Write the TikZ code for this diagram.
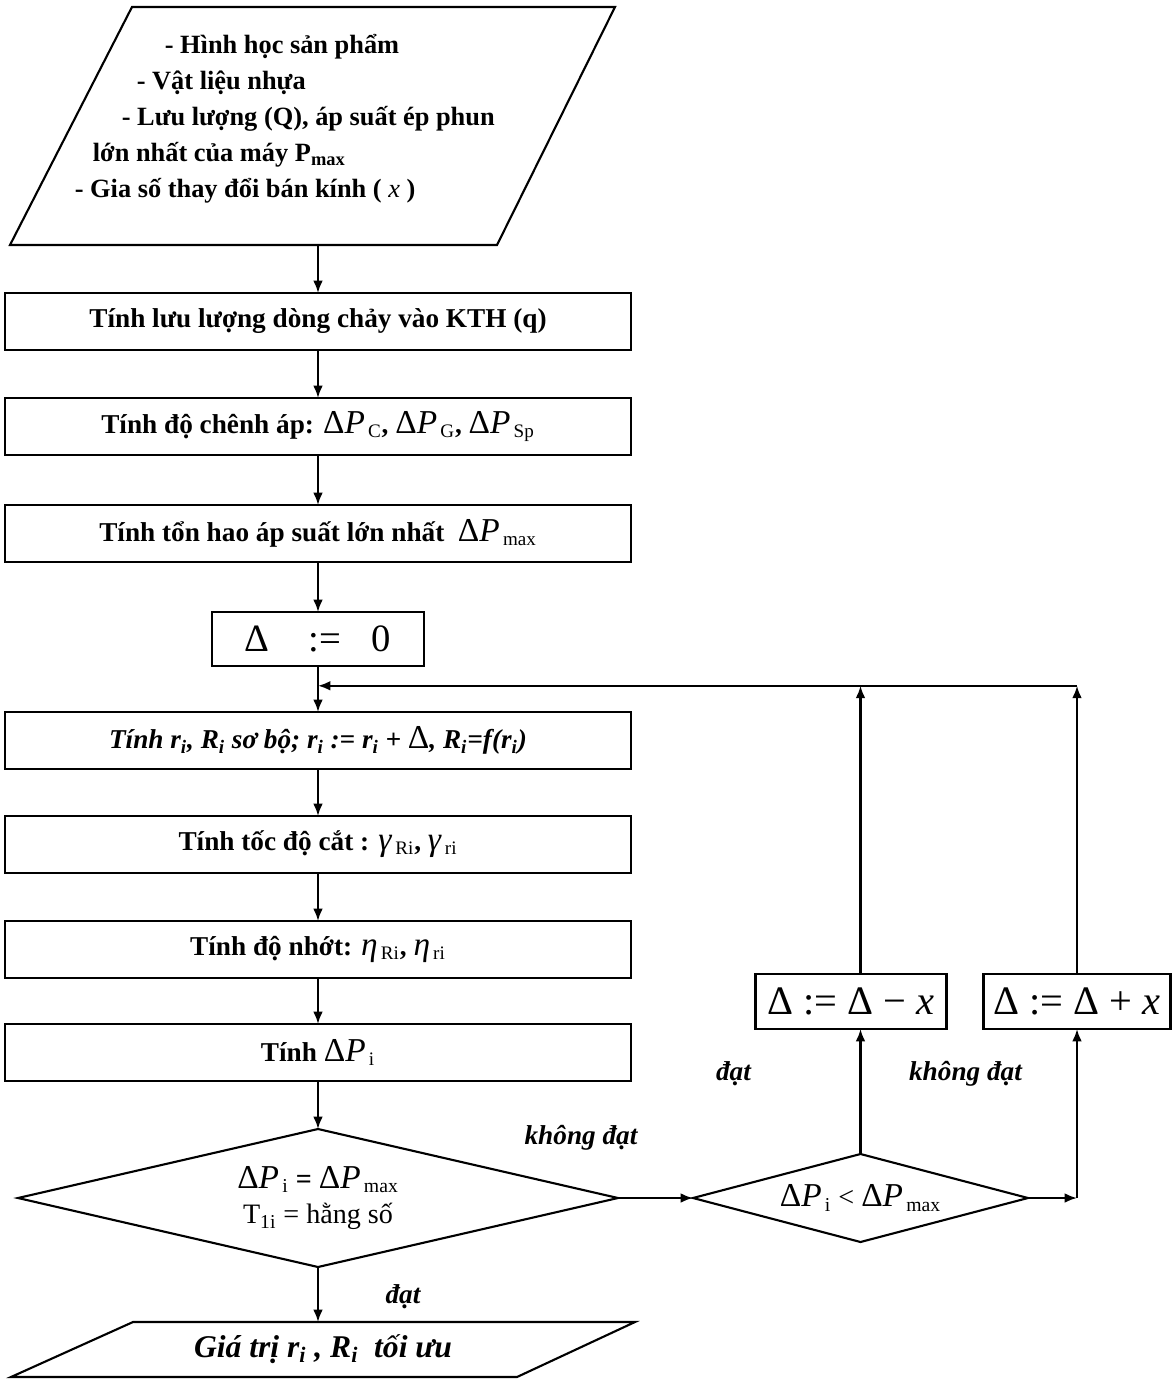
\documentclass[tikz,border=0pt]{standalone}
\usepackage{fontspec}
\setmainfont{Liberation Serif}
\usetikzlibrary{shapes,arrows.meta,positioning,calc}

\newcommand{\dP}[1]{{\mdseries{\fontsize{19}{20}\selectfont Δ\textit{P}}\textsubscript{\,#1}}}
\newcommand{\symsub}[2]{{\mdseries{\fontsize{19}{20}\selectfont\textit{#1}}\textsubscript{\,#2}}}

\begin{document}
\begin{tikzpicture}[line width=1.2pt,
    every node/.style={font=\fontsize{15.5}{20.5}\selectfont\bfseries, outer sep=0pt},
    box/.style={rectangle, draw, minimum width=12.52cm, minimum height=1.14cm, align=center},
    small/.style={rectangle, draw, inner sep=2pt, minimum height=1.1cm, font=\fontsize{23}{24}\selectfont\mdseries},
    io/.style={rectangle, inner sep=0pt},
    test/.style={diamond, draw, inner sep=0pt, align=center, font=\fontsize{16}{20}\selectfont\mdseries},
    lbl/.style={font=\fontsize{15.5}{17}\selectfont\bfseries\itshape},
    arrow/.style={-{Latex[length=7pt, width=5.5pt]}},
]
    \useasboundingbox (0,0) rectangle (23.5,-27.62);

    \node[io, minimum width=12.1cm, minimum height=4.76cm] (input) at (6.25,-2.52) {};
    \draw (input.south west) -- ([xshift=2.44cm]input.north west) -- (input.north east) -- ([xshift=-2.36cm]input.south east) -- cycle;
    \node[align=left, anchor=west, font=\fontsize{15}{20.5}\selectfont\bfseries] (inputtext) at (1.38,-2.38)
        {\hspace*{1.8cm}- Hình học sản phẩm\\
         \hspace*{1.24cm}- Vật liệu nhựa\\
         \hspace*{0.94cm}- Lưu lượng (Q), áp suất ép phun\\
         \hspace*{0.36cm}lớn nhất của máy P\textsubscript{max}\\
         - Gia số thay đổi bán kính ( {\mdseries\itshape x} )};
    \node[box] (flow) at (6.36,-6.43) {Tính lưu lượng dòng chảy vào KTH (q)};
    \node[box, below=0.96cm of flow] (drop) {Tính độ chênh áp: \dP{C}, \dP{G}, \dP{Sp}};
    \node[box, below=1.0cm of drop] (loss) {Tính tổn hao áp suất lớn nhất \ \dP{max}};
    \node[small, minimum width=4.24cm, minimum height=1.08cm, font=\fontsize{22}{24}\selectfont\mdseries, below=1.0cm of loss] (init) {Δ\hspace{1em}:=\hspace{0.8em}0};
    \node[box, below=0.92cm of init, font=\fontsize{15.5}{17}\selectfont\bfseries\itshape] (radius)
        {Tính r\textsubscript{i}, R\textsubscript{i} sơ bộ; r\textsubscript{i} := r\textsubscript{i} + {\mdseries\upshape\fontsize{19}{20}\selectfont Δ}, R\textsubscript{i}=f(r\textsubscript{i})};
    \node[box, below=0.94cm of radius] (shear) {Tính tốc độ cắt : \symsub{γ}{Ri}, \symsub{γ}{ri}};
    \node[box, below=0.96cm of shear] (visc) {Tính độ nhớt: \symsub{η}{Ri}, \symsub{η}{ri}};
    \node[box, below=0.92cm of visc] (press) {Tính \dP{i}};
    \node[test, minimum width=12cm, minimum height=2.76cm, aspect=4.35, below=0.96cm of press] (test1)
        {\dP{i} \textbf{=} \dP{max}\\ T\textsubscript{1i} = hằng số};
    \node[io, minimum width=12.48cm, minimum height=1.1cm, below=1.1cm of test1, xshift=0.1cm] (result) {};
    \draw (result.south west) -- ([xshift=2.44cm]result.north west) -- (result.north east) -- ([xshift=-2.36cm]result.south east) -- cycle;
    \node[font=\fontsize{18}{20}\selectfont\bfseries\itshape] (resulttext) at (result.center)
        {Giá trị r\textsubscript{i} , R\textsubscript{i}\ \ tối ưu};

    \node[test, minimum width=6.7cm, minimum height=1.76cm, aspect=3.8, right=1.5cm of test1] (test2) {\dP{i} < \dP{max}};
    \node[small, minimum width=3.82cm, above=2.5cm of test2, xshift=-0.19cm] (minus) {Δ := Δ − \textit{x}};
    \node[small, minimum width=3.74cm, right=0.74cm of minus] (plus) {Δ := Δ + \textit{x}};

    \coordinate (join) at ($(init.south)!0.43!(radius.north)$);
    \coordinate (turn) at (test2.east -| plus.south);

    \draw[arrow] (input.south -| flow.north) -- (flow.north);
    \draw[arrow] (flow) -- (drop);
    \draw[arrow] (drop) -- (loss);
    \draw[arrow] (loss) -- (init);
    \draw[arrow] (init) -- (radius);
    \draw[arrow] (radius) -- (shear);
    \draw[arrow] (shear) -- (visc);
    \draw[arrow] (visc) -- (press);
    \draw[arrow] (press) -- (test1);
    \draw[arrow] (test1.south) -- (test1.south |- result.north);
    \draw[arrow] (test1.east) -- (test2.west);
    \draw[arrow] (test2.north) -- (test2.north |- minus.south);
    \draw[arrow] (test2.east) -- (turn);
    \draw[arrow] (turn) -- (plus.south);
    \draw[arrow] (test2.north |- minus.north) -- (test2.north |- join);
    \draw[arrow] (plus.north) -- (plus.north |- join);
    \draw[arrow] (plus.north |- join) -- (join);

    \node[lbl] (fail1) at ($(test1.east)+(-0.74,1.2)$) {không đạt};
    \node[lbl] (pass2) at ($(test2.north)+(-2.54,1.6)$) {đạt};
    \node[lbl] (fail2) at ($(test2.north)+(2.1,1.6)$) {không đạt};
    \node[lbl] (pass1) at ($(test1.south)+(1.7,-0.6)$) {đạt};
\end{tikzpicture}
\end{document}
